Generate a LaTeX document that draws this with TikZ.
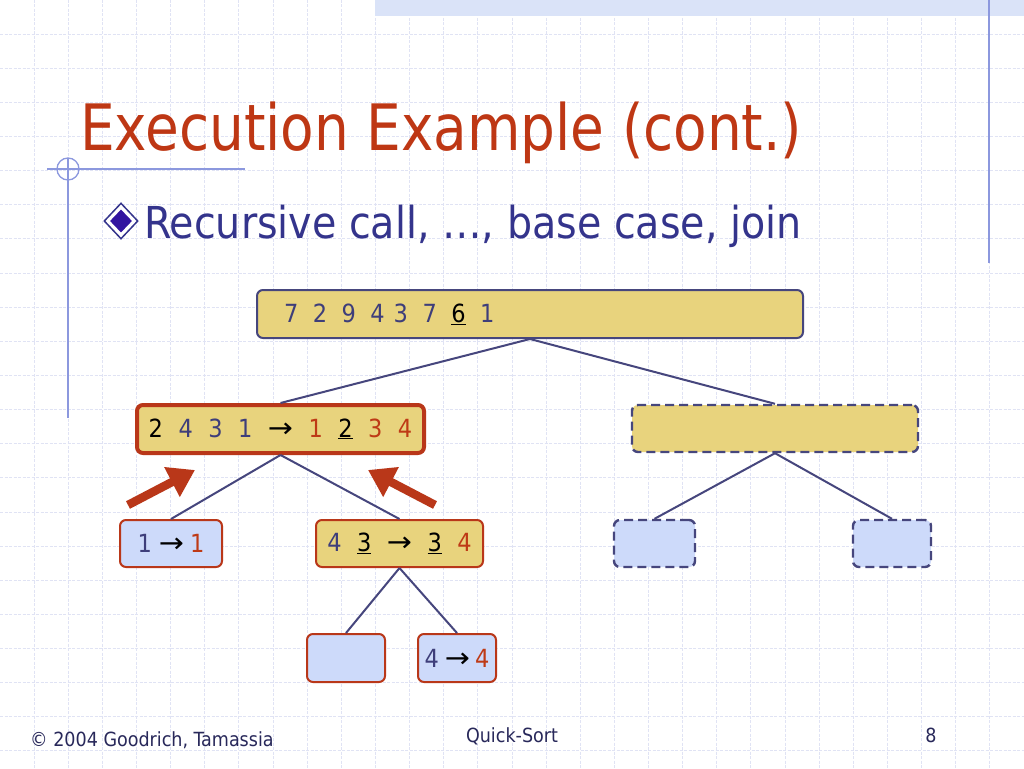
\documentclass[tikz,border=0pt]{standalone}
\usepackage{fontspec}
\setmainfont{DejaVu Sans Condensed}
\newfontfamily\arrowfont{DejaVu Sans}
\usetikzlibrary{arrows.meta,shapes.geometric}
\definecolor{gridc}{RGB}{224,227,244}
\definecolor{bandc}{RGB}{218,227,248}
\definecolor{decoc}{RGB}{140,152,222}
\definecolor{titlec}{RGB}{190,55,20}
\definecolor{subc}{RGB}{52,52,140}
\definecolor{bulletc}{RGB}{50,20,160}
\definecolor{khaki}{RGB}{232,211,125}
\definecolor{lblue}{RGB}{205,218,250}
\definecolor{redb}{RGB}{185,55,25}
\definecolor{bluet}{RGB}{62,62,122}
\definecolor{blueb}{RGB}{70,70,125}
\definecolor{redt}{RGB}{190,58,22}
\definecolor{footc}{RGB}{40,40,90}
\newcommand\gp{\hspace{15.5pt}}
\newcommand\gq{\hspace{14.5pt}}
\newcommand\arr{{\color{black}\arrowfont\scalebox{1.2}[1.1]{→}}}
\begin{document}
\begin{tikzpicture}[x=1pt,y=-1pt,
  gridline/.style={draw=gridc, line width=1pt, dash pattern=on 3pt off 1.5pt},
  deco/.style={draw=decoc, line width=1.3pt},
  box/.style={rounded corners=6pt, inner sep=0pt, font=\fontsize{25}{25}\selectfont, text=bluet},
  yel/.style={box, fill=khaki},
  blu/.style={box, fill=lblue},
  thinred/.style={draw=redb, line width=2pt},
  thickred/.style={draw=redb, line width=4pt},
  bluedraw/.style={draw=blueb, line width=2pt},
  dashbox/.style={draw=blueb, line width=2.4pt, dash pattern=on 9pt off 5pt},
  edge/.style={draw=blueb, line width=2pt},
  bigarrow/.style={draw=redb, line width=8.5pt, -{Triangle[length=26pt,width=32pt]}},
  foot/.style={inner sep=0pt, font=\fontsize{19.5}{19.5}\selectfont, text=footc}
]
\useasboundingbox (0,0) rectangle (1024,768);
\fill[white] (0,0) rectangle (1024,768);
% grid
\foreach \i in {1,...,29} \draw[gridline] (\i*34.1333,0) -- (\i*34.1333,768);
\foreach \j in {1,...,22} \draw[gridline] (0,\j*34.1333) -- (1024,\j*34.1333);
% band and decorations
\fill[bandc] (375,0) rectangle (1024,16);
\draw[deco] (989,0) -- (989,263);
\draw[deco] (47,169) -- (245,169);
\draw[deco] (68,158) -- (68,418);
\draw[deco] (68,169) circle[radius=11pt];
% title
\node[anchor=base west, inner sep=0pt, font=\fontsize{64}{64}\selectfont, text=titlec] (title) at (80,150) {\scalebox{0.953}[1]{Execution Example (cont.)}};
\node[diamond, draw=subc, fill=white, line width=1.5pt, inner sep=0pt, minimum width=34pt, minimum height=36pt] (bul) at (121,221) {};
\node[diamond, fill=bulletc, inner sep=0pt, minimum width=22pt, minimum height=23pt] (bulin) at (121,221) {};
\node[anchor=base west, inner sep=0pt, font=\fontsize{44}{44}\selectfont, text=subc] (sub) at (144,238) {Recursive call, …, base case, join};
% tree
\node[yel, bluedraw, minimum width=546pt, minimum height=48pt, text width=492pt, align=left] (top) at (530,314)
  {7\gq 2\gq 9\gq 4\hspace{9pt}3\gq 7\gq{\color{black}\underline{6}}\gq 1};
\node[yel, thickred, minimum width=287pt, minimum height=48pt] (L) at (280.5,429)
  {{\color{black}2}\gp 4\gp 3\gp 1\gp\arr\gp{\color{redt}1}\gp{\color{black}\underline{2}}\gp{\color{redt}3\gp 4}};
\node[yel, dashbox, minimum width=286pt, minimum height=47pt] (R) at (775,428.5) {};
\node[blu, thinred, minimum width=102pt, minimum height=47pt] (LL) at (171,543.5)
  {1\hspace{7pt}\arr\hspace{6pt}{\color{redt}1}};
\node[yel, thinred, minimum width=167pt, minimum height=47pt] (LR) at (399.5,543.5)
  {4\gp{\color{black}\underline{3}}\gp\arr\gp{\color{black}\underline{3}}\gp{\color{redt}4}};
\node[blu, thinred, minimum width=78pt, minimum height=48pt] (LRL) at (346,658) {};
\node[blu, thinred, minimum width=78pt, minimum height=48pt] (LRR) at (457,658)
  {4\hspace{6pt}\arr\hspace{5pt}{\color{redt}4}};
\node[blu, dashbox, minimum width=81pt, minimum height=47pt] (RL) at (654.5,543.5) {};
\node[blu, dashbox, minimum width=78pt, minimum height=47pt] (RR) at (892,543.5) {};
\draw[edge] (top.south) -- (L.north);
\draw[edge] (top.south) -- (R.north);
\draw[edge] (L.south) -- (LL.north);
\draw[edge] (L.south) -- (LR.north);
\draw[edge] (LR.south) -- (LRL.north);
\draw[edge] (LR.south) -- (LRR.north);
\draw[edge] (R.south) -- (RL.north);
\draw[edge] (R.south) -- (RR.north);
% big arrows
\coordinate (a1s) at (128,505);
\coordinate (a1e) at (195,470);
\coordinate (a2s) at (435,505);
\coordinate (a2e) at (368,470);
\draw[bigarrow] (a1s) -- (a1e);
\draw[bigarrow] (a2s) -- (a2e);
% footer
\node[foot, anchor=base west] (f1) at (30,746) {© 2004 Goodrich, Tamassia};
\node[foot, anchor=base] (f2) at (512,742) {Quick-Sort};
\node[foot, anchor=base] (f3) at (931,742) {8};
\end{tikzpicture}
\end{document}
